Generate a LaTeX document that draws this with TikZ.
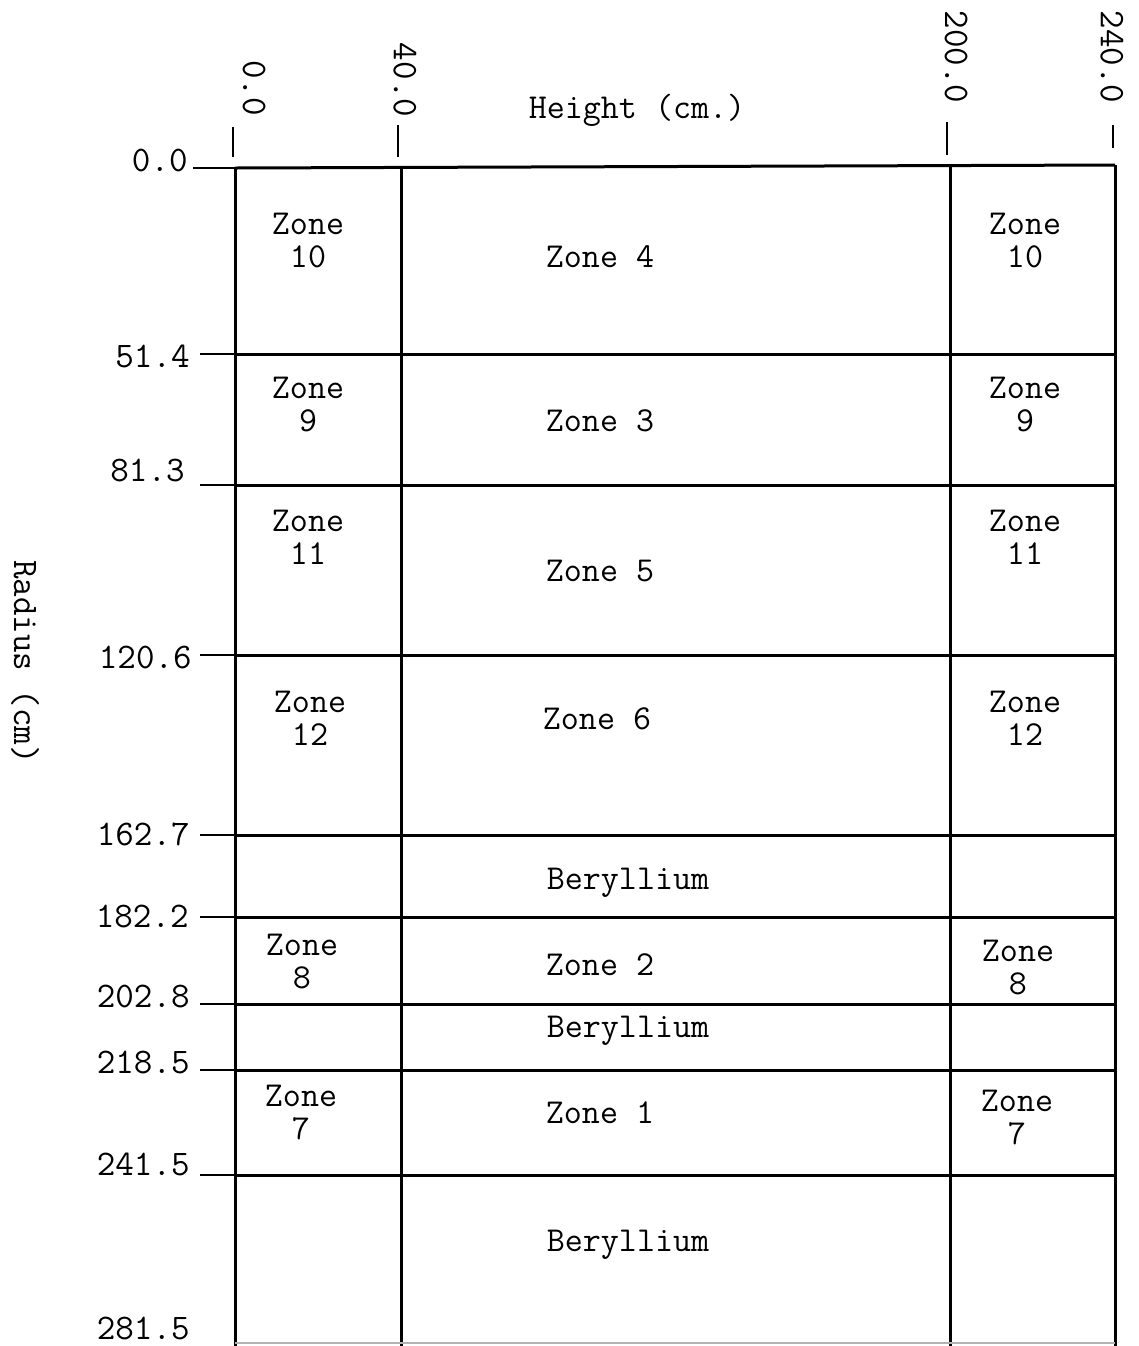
\documentclass[tikz,border=0pt]{standalone}
\usepackage{fontspec}
\begin{document}
\begin{tikzpicture}[x=0.5pt,y=-0.5pt,
  gridline/.style={line width=1.5pt},
  tickline/.style={line width=1.1pt},
  lbl/.style={font=\ttfamily\fontsize{17.5}{16.5}\selectfont, inner sep=0pt, align=center},
  axlbl/.style={font=\ttfamily\fontsize{18}{16}\selectfont, inner sep=0pt, anchor=east},
  toplbl/.style={font=\ttfamily\fontsize{18}{16}\selectfont, inner sep=0pt, rotate=-90},
]
\useasboundingbox (0,0) rectangle (1139,1346);

% vertical grid lines
\draw[gridline] (235,168) -- (235,1346);
\draw[gridline] (401,168) -- (401,1346);
\draw[gridline] (950,166) -- (950,1346);
\draw[gridline] (1115,165) -- (1115,1346);

% horizontal grid lines
\draw[gridline] (235,168) -- (1115,165);
\foreach \yy in {354,485,655,835,917,1004,1070,1175}
  \draw[gridline] (235,\yy) -- (1115,\yy);
\draw[line width=1.2pt, gray!60] (235,1343) -- (1115,1343);

% left ticks and labels
\draw[tickline] (193,168) -- (235,168);
\foreach \yy in {354,485,655,835,917,1004,1070,1175}
  \draw[tickline] (200,\yy) -- (235,\yy);

\node[axlbl] (r0)   at (188,160)  {0.0};
\node[axlbl] (r1)   at (190,356)  {51.4};
\node[axlbl] (r2)   at (185,470)  {81.3};
\node[axlbl] (r3)   at (192,657)  {120.6};
\node[axlbl] (r4)   at (190,834)  {162.7};
\node[axlbl] (r5)   at (189,916)  {182.2};
\node[axlbl] (r6)   at (190,996)  {202.8};
\node[axlbl] (r7)   at (190,1062) {218.5};
\node[axlbl] (r8)   at (190,1164) {241.5};
\node[axlbl] (r9)   at (190,1328) {281.5};

% top ticks and labels
\draw[tickline] (233,127) -- (233,157);
\draw[tickline] (398,125) -- (398,157);
\draw[tickline] (947,122) -- (947,155);
\draw[tickline] (1113,125) -- (1113,148);

\node[toplbl] (h0) at (254,88) {0.0};
\node[toplbl] (h1) at (405,80) {40.0};
\node[toplbl] (h2) at (956,57) {200.0};
\node[toplbl] (h3) at (1112,57) {240.0};

\node[lbl] (htitle) at (637,110) {Height (cm.)};
\node[toplbl] (rtitle) at (25,662) {Radius (cm)};

% cell labels
\node[lbl] (z10a) at (308,241) {Zone\\10};
\node[lbl] (z4)   at (600,257) {Zone 4};
\node[lbl] (z10b) at (1025,241) {Zone\\10};

\node[lbl] (z9a) at (308,405) {Zone\\9};
\node[lbl] (z3)  at (600,421) {Zone 3};
\node[lbl] (z9b) at (1025,405) {Zone\\9};

\node[lbl] (z11a) at (308,537) {Zone\\11};
\node[lbl] (z5)   at (600,571) {Zone 5};
\node[lbl] (z11b) at (1025,537) {Zone\\11};

\node[lbl] (z12a) at (310,718) {Zone\\12};
\node[lbl] (z6)   at (597,719) {Zone 6};
\node[lbl] (z12b) at (1025,718) {Zone\\12};

\node[lbl] (be1) at (628,883) {Beryllium};

\node[lbl] (z8a) at (302,962) {Zone\\8};
\node[lbl] (z2)  at (600,965) {Zone 2};
\node[lbl] (z8b) at (1018,968) {Zone\\8};

\node[lbl] (be2) at (628,1031) {Beryllium};

\node[lbl] (z7a) at (301,1113) {Zone\\7};
\node[lbl] (z1)  at (600,1113) {Zone 1};
\node[lbl] (z7b) at (1017,1118) {Zone\\7};

\node[lbl] (be3) at (628,1245) {Beryllium};
\end{tikzpicture}
\end{document}
